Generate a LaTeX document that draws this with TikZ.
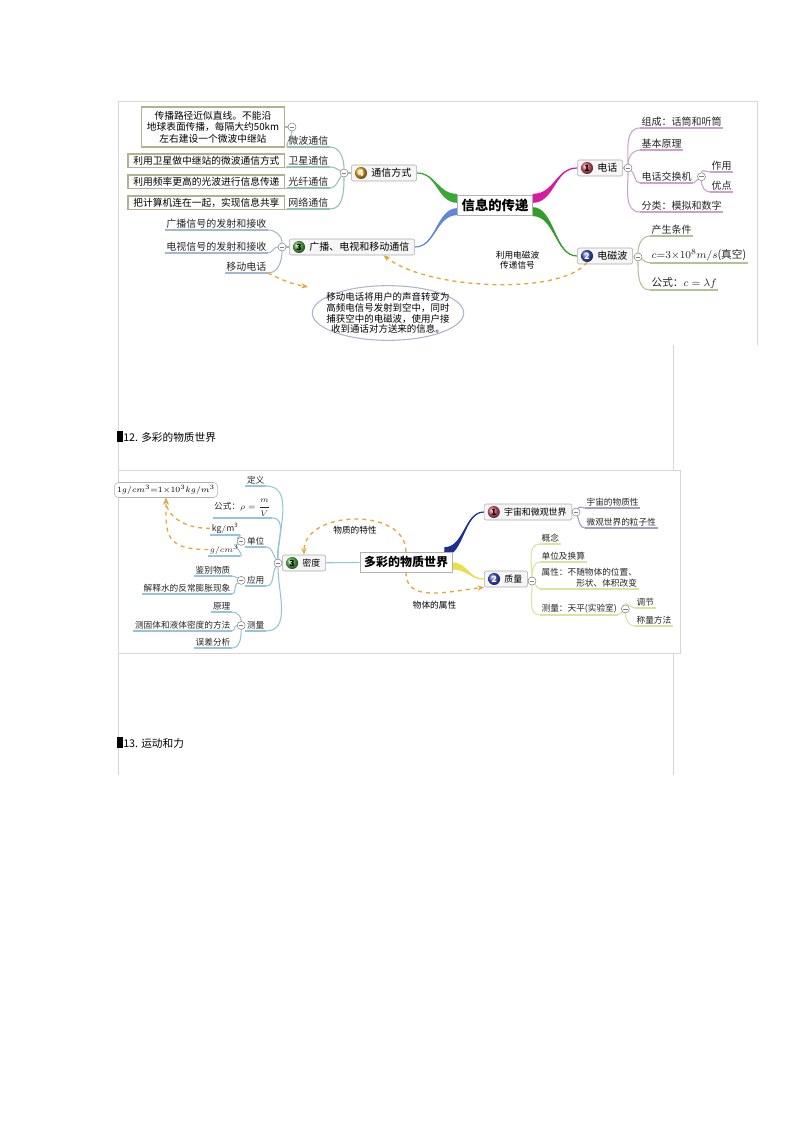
\documentclass[tikz,border=0pt]{standalone}
\usepackage{fontspec}
\setmainfont{Noto Sans CJK SC}
\usetikzlibrary{calc,positioning,shapes.geometric,arrows.meta,backgrounds}

\definecolor{framegray}{RGB}{214,214,214}
\definecolor{notegray}{RGB}{178,178,146}
\definecolor{storyblue}{RGB}{170,182,205}
\definecolor{hintorange}{RGB}{226,168,60}
\definecolor{telpink}{RGB}{214,28,158}
\definecolor{telline}{RGB}{205,160,205}
\definecolor{commgreen}{RGB}{58,168,52}
\definecolor{commline}{RGB}{150,195,175}
\definecolor{bcblue}{RGB}{96,136,214}
\definecolor{bcline}{RGB}{165,182,205}
\definecolor{wavegreen}{RGB}{48,158,40}
\definecolor{waveline}{RGB}{175,195,150}
\definecolor{cosmosblue}{RGB}{28,46,150}
\definecolor{cosmosline}{RGB}{160,160,190}
\definecolor{massyellow}{RGB}{232,222,70}
\definecolor{massline}{RGB}{218,228,160}
\definecolor{densline}{RGB}{150,196,216}
\definecolor{ballred}{RGB}{225,95,115}
\definecolor{ballblue}{RGB}{70,90,200}
\definecolor{ballgreen}{RGB}{95,190,80}
\definecolor{ballorange}{RGB}{245,175,40}

\tikzset{
  hub/.style={draw=gray!60, fill=white, minimum height=15pt, inner xsep=3pt, inner ysep=1pt,
    font=\fontsize{10}{12}\selectfont\bfseries},
  topic/.style={draw=gray!65, fill=gray!7, rounded corners=1.5pt, minimum height=12pt,
    inner xsep=4pt, inner ysep=1pt, font=\fontsize{7.5}{9}\selectfont},
  ball/.style 2 args={circle, ball color=#1, text=#2, inner sep=0pt, minimum size=9pt,
    font=\fontsize{6.5}{7}\selectfont\bfseries},
  leaf/.style={inner xsep=1pt, inner ysep=1pt, align=right, text=black!85,
    font=\fontsize{7.5}{9}\selectfont},
  note/.style={draw=notegray, line width=1pt, fill=white, minimum height=10pt, inner xsep=4pt,
    inner ysep=1pt, align=center, font=\fontsize{7.3}{8.6}\selectfont},
  story/.style={ellipse, draw=storyblue, line width=0.8pt, fill=white, minimum width=113pt,
    minimum height=41pt, inner xsep=-6pt, inner ysep=-3pt, align=center,
    font=\fontsize{7.1}{8.1}\selectfont},
  unitnote/.style={draw=gray!60, rounded corners=3pt, fill=white, inner sep=2pt,
    font=\fontsize{6.3}{7}\selectfont},
  fold/.style={circle, draw=gray, fill=white, inner sep=0pt, minimum size=6pt,
    path picture={\draw[gray] ([xshift=1.3pt]path picture bounding box.west)
      -- ([xshift=-1.3pt]path picture bounding box.east);}},
  twig/.style={draw=#1, line width=0.8pt},
  hint/.style={draw=hintorange, dashed, line width=1pt, -{Stealth[length=5pt,width=4pt]}},
  hintlabel/.style={font=\fontsize{6.5}{7.8}\selectfont, align=center},
  heading/.style={anchor=west, inner sep=0pt, font=\fontsize{8}{9}\selectfont},
}

\newcommand{\topic}[6]{
    % #1 position, #2 name, #3 ball colour, #4 number colour, #5 number, #6 text
    \draw (#1) node[topic] (#2) {\hspace{11pt}#6};
    \draw ([xshift=7.5pt]#2.west) node[ball={#3}{#4}] (#2 ball) {#5};
}
\newcommand{\leaf}[5]{
    % #1 position, #2 anchor, #3 name, #4 text, #5 colour
    \draw (#1) node[leaf, anchor=#2] (#3) {#4};
    \draw[twig=#5] (#3.south west) -- (#3.south east);
}
\newcommand{\limb}[4]{
    % #1 from, #2 to, #3 half width, #4 colour
    \coordinate (limb mid) at ($(#1)!0.5!(#2)$);
    \fill[#4] ($(#1)+(0,#3)$) .. controls ($(limb mid |- #1)+(0,#3)$) and (limb mid |- #2) .. (#2)
        .. controls (limb mid |- #2) and ($(limb mid |- #1)-(0,#3)$) .. ($(#1)-(0,#3)$) -- cycle;
    \draw[#4, line width=0.9pt] (#1) .. controls (limb mid |- #1) and (limb mid |- #2) .. (#2);
}

\begin{document}
\begin{tikzpicture}[x=0.75pt, y=0.75pt]
    \useasboundingbox (0,0) rectangle (794,-1123);
    \begin{scope}[on background layer]
        \fill[white] (0,0) rectangle (794,-1123);
    \end{scope}

    % Page frame
    \draw[framegray] (118,-345) -- (118,-101) -- (757,-101) -- (757,-345);
    \draw[framegray] (118,-345) -- (118,-775);
    \draw[framegray] (673,-345) -- (673,-470);
    \draw[framegray] (118,-470) -- (680,-470) -- (680,-653) -- (118,-653);
    \draw[framegray] (673,-653) -- (673,-775);

    % Map 1
    \pgfmathsetmacro{\commcol}{330}
    \pgfmathsetmacro{\telcol}{640}
    \pgfmathsetmacro{\wavecol}{650}
    \pgfmathsetmacro{\bccol}{268}

    \draw (495,-205) node[hub] (info) {信息的传递};
    \topic{384,-173}{comm}{ballorange}{white}{4}{通信方式}
    \topic{600,-168}{tel}{ballred}{black}{1}{电话}
    \topic{605,-256}{wave}{ballblue}{white}{2}{电磁波}
    \topic{352,-247}{bc}{ballgreen}{black}{3}{广播、电视和移动通信}

    % 通信方式
    \draw (344,-173) node[fold] (commfold) {};
    \leaf{\commcol,-147}{south east}{mw}{微波通信}{commline}
    \leaf{\commcol,-167}{south east}{sat}{卫星通信}{commline}
    \leaf{\commcol,-188}{south east}{fib}{光纤通信}{commline}
    \leaf{\commcol,-209}{south east}{net}{网络通信}{commline}
    \draw (292,-127) node[fold] (mwfold) {};
    \draw node[note, left=2pt of mwfold, inner ysep=3pt] (mwnote)
        {传播路径近似直线。不能沿\\地球表面传播，每隔大约50km\\左右建设一个微波中继站};
    \draw node[note, left=1pt of sat] (satnote) {利用卫星做中继站的微波通信方式};
    \draw node[note, left=1pt of fib] (fibnote) {利用频率更高的光波进行信息传递};
    \draw node[note, left=1pt of net] (netnote) {把计算机连在一起，实现信息共享};

    % 电话
    \draw (628,-168) node[fold] (telfold) {};
    \leaf{\telcol,-128}{south west}{telcomp}{组成：话筒和听筒}{telline}
    \leaf{\telcol,-150}{south west}{telprin}{基本原理}{telline}
    \leaf{\telcol,-183}{south west}{telsw}{电话交换机}{telline}
    \leaf{\telcol,-212}{south west}{telcls}{分类：模拟和数字}{telline}
    \draw node[fold, right=3pt of telsw] (swfold) {};
    \leaf{710,-172}{south west}{swuse}{作用}{telline}
    \leaf{710,-192}{south west}{swgood}{优点}{telline}

    % 电磁波
    \draw (638,-257) node[fold] (wavefold) {};
    \leaf{\wavecol,-236}{south west}{wavecond}{产生条件}{waveline}
    \leaf{\wavecol,-263}{south west}{wavespeed}{\fontsize{8}{10}\selectfont$c{=}3{\times}10^{8}m/s$(真空)}{waveline}
    \leaf{\wavecol,-290}{south west}{waveform}{\fontsize{8}{10}\selectfont 公式：$c=\lambda f$}{waveline}

    % 广播、电视和移动通信
    \draw (282,-247) node[fold] (bcfold) {};
    \leaf{\bccol,-230}{south east}{bcradio}{广播信号的发射和接收}{bcline}
    \leaf{\bccol,-253}{south east}{bctv}{电视信号的发射和接收}{bcline}
    \leaf{\bccol,-273}{south east}{bcmob}{移动电话}{bcline}
    \draw (388,-313) node[story] (mobnote)
        {移动电话将用户的声音转变为\\高频电信号发射到空中，同时\\捕获空中的电磁波，使用户接\\收到通话对方送来的信息。};
    \coordinate (mobtip) at (308,-287);

    % Headings
    \draw (117,-437) node[heading] (sec12) {\rule{4.5pt}{8pt}12. 多彩的物质世界};
    \draw (117,-743) node[heading] (sec13) {\rule{4.5pt}{8pt}13. 运动和力};

    % Map 2
    \pgfmathsetmacro{\masscol}{540}
    \pgfmathsetmacro{\denscol}{266}
    \begin{scope}[topic/.append style={font=\fontsize{6.7}{8}\selectfont},
                  leaf/.append style={font=\fontsize{6.5}{8}\selectfont}]
    \draw (406,-562) node[hub, font=\fontsize{9}{11}\selectfont\bfseries] (world) {多彩的物质世界};
    \topic{528,-512}{cosmos}{ballred}{black}{1}{宇宙和微观世界}
    \topic{506,-579}{mass}{ballblue}{white}{2}{质量}
    \topic{304,-563}{dens}{ballgreen}{black}{3}{密度}

    % 宇宙和微观世界
    \draw (576,-512) node[fold] (cosmosfold) {};
    \leaf{585,-508}{south west}{cmat}{宇宙的物质性}{cosmosline}
    \leaf{585,-528}{south west}{cpart}{微观世界的粒子性}{cosmosline}

    % 质量
    \draw (532,-581) node[fold] (massfold) {};
    \leaf{\masscol,-544}{south west}{mconc}{概念}{massline}
    \leaf{\masscol,-562}{south west}{munit}{单位及换算}{massline}
    \leaf{\masscol,-589}{south west}{mprop}{属性：不随物体的位置、\\形状、体积改变}{massline}
    \leaf{\masscol,-615}{south west}{mmeas}{测量：天平(实验室)}{massline}
    \draw node[fold, right=2pt of mmeas] (mmeasfold) {};
    \leaf{635,-608}{south west}{madj}{调节}{massline}
    \leaf{635,-626}{south west}{mweigh}{称量方法}{massline}

    % 密度
    \draw (278,-563) node[fold] (densfold) {};
    \leaf{\denscol,-486}{south east}{ddef}{定义}{densline}
    \leaf{272,-518}{south east}{dform}{公式：$\rho=\displaystyle\frac{m}{V}$}{densline}
    \leaf{\denscol,-547}{south east}{dunit}{单位}{densline}
    \leaf{\denscol,-586}{south east}{duse}{应用}{densline}
    \leaf{\denscol,-631}{south east}{dmeas}{测量}{densline}
    \draw node[fold, left=0pt of dunit] (dunitfold) {};
    \draw node[fold, left=0pt of duse] (dusefold) {};
    \draw node[fold, left=0pt of dmeas] (dmeasfold) {};
    \leaf{240,-535}{south east}{dkg}{$\mathrm{kg/m^3}$}{densline}
    \leaf{240,-556}{south east}{dg}{$g/cm^3$}{densline}
    \leaf{232,-576}{south east}{dident}{鉴别物质}{densline}
    \leaf{232,-594}{south east}{dwater}{解释水的反常膨胀现象}{densline}
    \leaf{232,-612}{south east}{dprin}{原理}{densline}
    \leaf{232,-631}{south east}{dmethod}{测固体和液体密度的方法}{densline}
    \leaf{232,-648}{south east}{derr}{误差分析}{densline}
    \draw (166,-490) node[unitnote] (unitbox) {$1g/cm^3{=}1{\times}10^3kg/m^3$};
    \end{scope}

    \begin{scope}[on background layer]
        % Main branches
        \limb{info.170}{comm.east}{4.5}{commgreen}
        \limb{info.190}{bc.east}{3.5}{bcblue}
        \limb{info.10}{tel.west}{4.5}{telpink}
        \limb{info.350}{wave.west}{4.5}{wavegreen}
        \limb{world.15}{cosmos.west}{4.5}{cosmosblue}
        \limb{world.-5}{mass.west}{3.5}{massyellow}
        \draw[twig=densline] (world) -- (dens);

        % 通信方式
        \draw[twig=commline] (comm) -- (commfold);
        \draw[twig=commline] (commfold) to[out=90,in=0] (mw.south east);
        \draw[twig=commline] (commfold) to[out=150,in=0] (sat.south east);
        \draw[twig=commline] (commfold) to[out=-130,in=0] (fib.south east);
        \draw[twig=commline] (commfold) to[out=-90,in=0] (net.south east);
        \draw[twig=commline] (mw.south west) to[out=90,in=-90] (mwfold);
        \draw[twig=commline] (mwfold) -- (mwnote);
        \draw[twig=commline] (sat.south west) -- (satnote.south east);
        \draw[twig=commline] (fib.south west) -- (fibnote.south east);
        \draw[twig=commline] (net.south west) -- (netnote.south east);

        % 电话
        \draw[twig=telline] (tel) -- (telfold);
        \draw[twig=telline] (telfold) to[out=90,in=180] (telcomp.south west);
        \draw[twig=telline] (telfold) to[out=90,in=180] (telprin.south west);
        \draw[twig=telline] (telfold) to[out=-40,in=180] (telsw.south west);
        \draw[twig=telline] (telfold) to[out=-90,in=180] (telcls.south west);
        \draw[twig=telline] (telsw.south east) -- (swfold);
        \draw[twig=telline] (swfold) to[out=90,in=180] (swuse.south west);
        \draw[twig=telline] (swfold) to[out=-90,in=180] (swgood.south west);

        % 电磁波
        \draw[twig=waveline] (wave) -- (wavefold);
        \draw[twig=waveline] (wavefold) to[out=90,in=180] (wavecond.south west);
        \draw[twig=waveline] (wavefold) to[out=-30,in=180] (wavespeed.south west);
        \draw[twig=waveline] (wavefold) to[out=-90,in=180] (waveform.south west);

        % 广播、电视和移动通信
        \draw[twig=bcline] (bc) -- (bcfold);
        \draw[twig=bcline] (bcfold) to[out=90,in=0] (bcradio.south east);
        \draw[twig=bcline] (bcfold) to[out=180,in=0] (bctv.south east);
        \draw[twig=bcline] (bcfold) to[out=-90,in=0] (bcmob.south east);

        % 宇宙和微观世界
        \draw[twig=cosmosline] (cosmos) -- (cosmosfold);
        \draw[twig=cosmosline] (cosmosfold) to[out=60,in=180] (cmat.south west);
        \draw[twig=cosmosline] (cosmosfold) to[out=-70,in=180] (cpart.south west);

        % 质量
        \draw[twig=massline] (mass) -- (massfold);
        \draw[twig=massline] (massfold) to[out=90,in=180] (mconc.south west);
        \draw[twig=massline] (massfold) to[out=90,in=180] (munit.south west);
        \draw[twig=massline] (massfold) to[out=-45,in=180] (mprop.south west);
        \draw[twig=massline] (massfold) to[out=-90,in=180] (mmeas.south west);
        \draw[twig=massline] (mmeas.south east) -- (mmeasfold);
        \draw[twig=massline] (mmeasfold) to[out=90,in=180] (madj.south west);
        \draw[twig=massline] (mmeasfold) to[out=-90,in=180] (mweigh.south west);

        % 密度
        \draw[twig=densline] (dens) -- (densfold);
        \draw[twig=densline] (densfold) to[out=90,in=0] (ddef.south east);
        \draw[twig=densline] (densfold) to[out=95,in=0] (dform.south east);
        \draw[twig=densline] (densfold) to[out=120,in=0] (dunit.south east);
        \draw[twig=densline] (densfold) to[out=-120,in=0] (duse.south east);
        \draw[twig=densline] (densfold) to[out=-90,in=0] (dmeas.south east);
        \draw[twig=densline] (dunitfold) to[out=150,in=0] (dkg.south east);
        \draw[twig=densline] (dunitfold) to[out=-150,in=0] (dg.south east);
        \draw[twig=densline] (dusefold) to[out=150,in=0] (dident.south east);
        \draw[twig=densline] (dusefold) to[out=-150,in=0] (dwater.south east);
        \draw[twig=densline] (dmeasfold) to[out=90,in=0] (dprin.south east);
        \draw[twig=densline] (dmeasfold) to[out=180,in=0] (dmethod.south east);
        \draw[twig=densline] (dmeasfold) to[out=-90,in=0] (derr.south east);
    \end{scope}

    % Hints
    \draw[hint] (wave ball.south) .. controls +(-25,-33) and +(45,-35) .. ($(bc.south)!0.5!(bc.south east)$)
        node[hintlabel, pos=0.4, above=7pt] (wavehint) {利用电磁波\\传递信号};
    \draw[hint] (bcmob.south east) to[bend right=8] (mobtip);
    \draw[hint] (world.north) .. controls +(0,45) and +(0,45) .. (dens.north)
        node[hintlabel, midway, below=1pt] (traitlabel) {物质的特性};
    \draw[hint] (world.south) .. controls +(0,-30) and +(-40,-5) .. (mass.south west)
        node[hintlabel, pos=0.55, below=2pt] (proplabel) {物体的属性};
    \draw[hint] (dkg.west) .. controls +(-30,0) and +(0,-15) .. (unitbox.south);
    \draw[hint] (dg.west) .. controls +(-45,0) and +(0,-35) .. (unitbox.south);
\end{tikzpicture}
\end{document}
